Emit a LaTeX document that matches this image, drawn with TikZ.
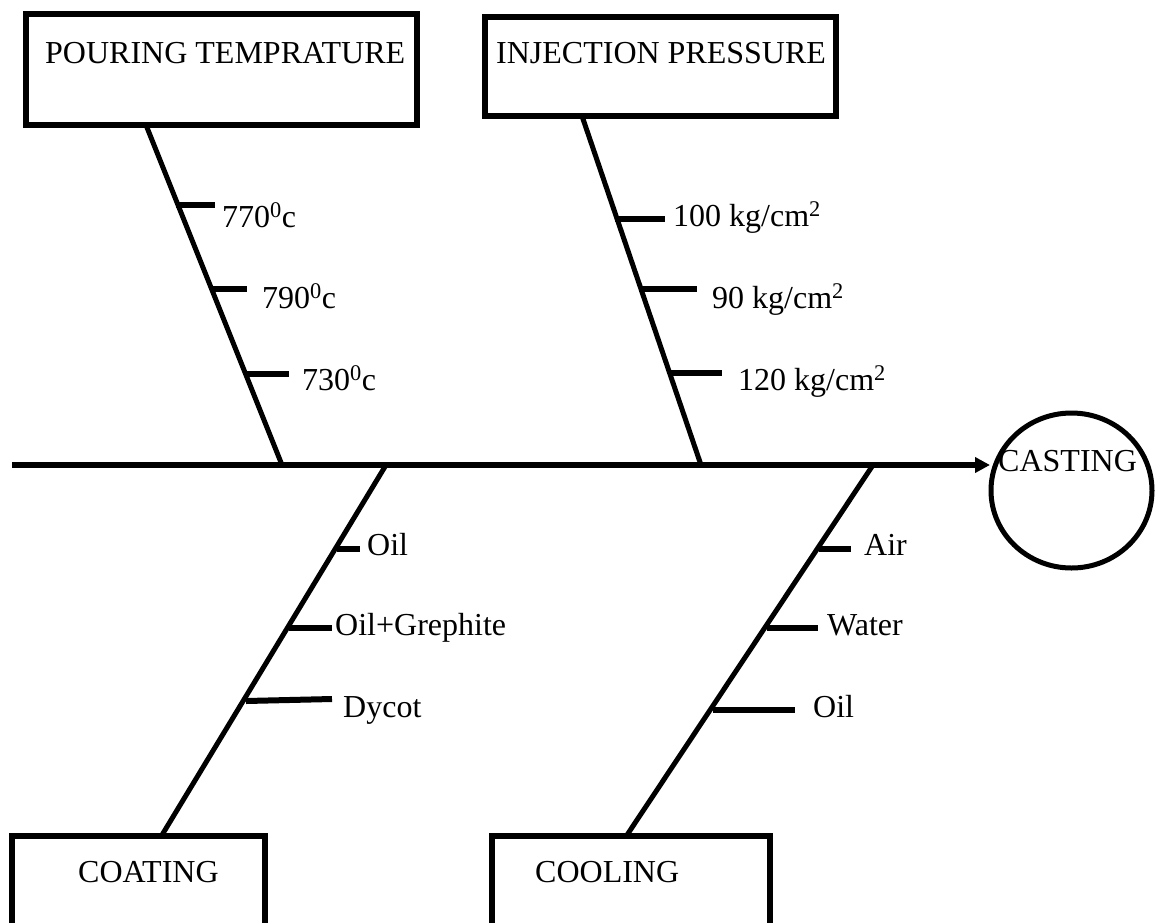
\documentclass[tikz,border=0pt]{standalone}
\usepackage{fontspec}
\setmainfont{Liberation Serif}
\usetikzlibrary{arrows.meta,shapes.geometric}
\begin{document}
\begin{tikzpicture}[x=1pt,y=-1pt,
  bone/.style={line width=5pt},
  tickline/.style={line width=6pt},
  box/.style={draw,line width=6pt,rectangle,inner sep=0pt},
  lbl/.style={anchor=base west,inner sep=0pt,font=\fontsize{32}{37}\selectfont}]
\useasboundingbox (0,0) rectangle (1157,922);
\clip (0,0) rectangle (1157,922);
% boxes
\node[box,minimum width=391pt,minimum height=111.5pt] (pour) at (221.5,69.25) {};
\node[box,minimum width=351pt,minimum height=99pt] (inj) at (660.5,66.5) {};
\node[box,minimum width=253pt,minimum height=140pt] (coat) at (138.5,905.5) {};
\node[box,minimum width=278pt,minimum height=140pt] (cool) at (631,905.5) {};
\node[draw,ellipse,line width=5pt,minimum width=161pt,minimum height=155pt,inner sep=0pt] (cast) at (1071.5,490.5) {};
% box texts
\node[lbl] (tpour) at (45,63) {POURING TEMPRATURE};
\node[lbl] (tinj) at (496,63) {INJECTION PRESSURE};
\node[lbl] (tcoat) at (78,882) {COATING};
\node[lbl] (tcool) at (535,882) {COOLING};
\node[lbl] (tcast) at (998,471) {CASTING};
% spine
\coordinate (s0) at (12,465);
\coordinate (tip) at (990,465);
\draw[line width=5.5pt,-{Triangle[length=15pt,width=15pt]}] (s0) -- (tip);
% junctions
\coordinate (j1) at (282,465);
\coordinate (j2) at (701,465);
\coordinate (j3) at (386,465);
\coordinate (j4) at (873,465);
\coordinate (b1) at (146,125);
\coordinate (b2) at (582,116);
\coordinate (b3) at (162,835);
\coordinate (b4) at (627,835);
\draw[bone] (b1) -- (j1);
\draw[bone] (b2) -- (j2);
\draw[bone] (j3) -- (b3);
\draw[bone] (j4) -- (b4);
% ticks on bone 1
\coordinate (a1) at (176,205); \coordinate (a1e) at (215,205);
\coordinate (a2) at (210,289); \coordinate (a2e) at (247,289);
\coordinate (a3) at (244,374); \coordinate (a3e) at (289,374);
\draw[tickline] (a1) -- (a1e);
\draw[tickline] (a2) -- (a2e);
\draw[tickline] (a3) -- (a3e);
\node[lbl] (l770) at (222,227) {770\textsuperscript{0}c};
\node[lbl] (l790) at (262,308) {790\textsuperscript{0}c};
\node[lbl] (l730) at (302,390) {730\textsuperscript{0}c};
% ticks on bone 2
\coordinate (c1) at (615,219); \coordinate (c1e) at (665,219);
\coordinate (c2) at (639,289); \coordinate (c2e) at (697,289);
\coordinate (c3) at (668,373); \coordinate (c3e) at (722,373);
\draw[tickline] (c1) -- (c1e);
\draw[tickline] (c2) -- (c2e);
\draw[tickline] (c3) -- (c3e);
\node[lbl] (l100) at (673,226) {100 kg/cm\textsuperscript{2}};
\node[lbl] (l90) at (712,308) {90 kg/cm\textsuperscript{2}};
\node[lbl] (l120) at (738,390) {120 kg/cm\textsuperscript{2}};
% ticks on bone 3
\coordinate (d1) at (337,549); \coordinate (d1e) at (360,549);
\coordinate (d2) at (289,628); \coordinate (d2e) at (332,628);
\coordinate (d3) at (246,701); \coordinate (d3e) at (332,699);
\draw[tickline] (d1) -- (d1e);
\draw[tickline] (d2) -- (d2e);
\draw[tickline] (d3) -- (d3e);
\node[lbl] (loil1) at (367,555) {Oil};
\node[lbl] (lgr) at (335,635) {Oil+Grephite};
\node[lbl] (ldy) at (343,717) {Dycot};
% ticks on bone 4
\coordinate (e1) at (819,549); \coordinate (e1e) at (851,549);
\coordinate (e2) at (767,628); \coordinate (e2e) at (818,628);
\coordinate (e3) at (713,710); \coordinate (e3e) at (795,710);
\draw[tickline] (e1) -- (e1e);
\draw[tickline] (e2) -- (e2e);
\draw[tickline] (e3) -- (e3e);
\node[lbl] (lair) at (864,555) {Air};
\node[lbl] (lwat) at (827,635) {Water};
\node[lbl] (loil2) at (813,717) {Oil};
\end{tikzpicture}
\end{document}
